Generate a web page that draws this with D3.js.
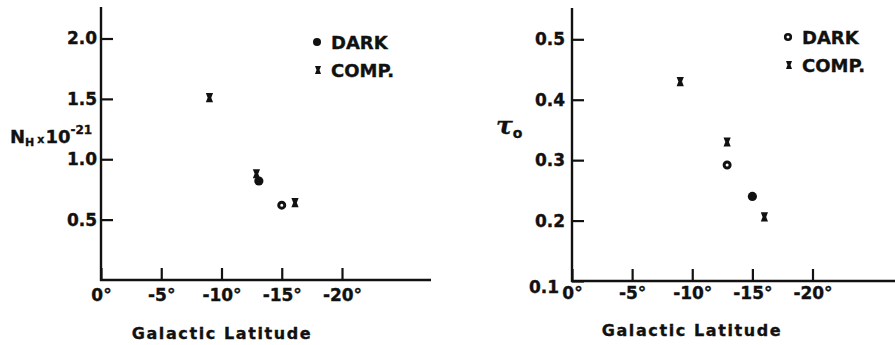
<!DOCTYPE html>
<html>
<head>
<meta charset="utf-8">
<script src="https://cdn.jsdelivr.net/npm/d3@7"></script>
<style>
  body { margin: 0; background: #fff; }
  text { font-family: "DejaVu Sans", sans-serif; font-weight: bold; fill: #111; stroke: #111; stroke-width: 0.35px; }
</style>
</head>
<body>
<div id="chart"></div>
<script>
// galactic latitude (deg) and values
const nhCompLat = [-9.0, -12.9, -16.1];
const nhCompVal = [1.51, 0.88, 0.64];
const nhDarkLat = [-13.1, -15.0];
const nhDarkVal = [0.82, 0.62];
const nhDarkOpen = [false, true];

const tauCompLat = [-9.0, -12.9, -16.0];
const tauCompVal = [0.43, 0.33, 0.206];
const tauDarkLat = [-12.9, -15.0];
const tauDarkVal = [0.292, 0.24];
const tauDarkOpen = [true, false];

const latTicks = [0, -5, -10, -15, -20];
const nhTicks = [0.5, 1.0, 1.5, 2.0];
const tauTicks = [0.1, 0.2, 0.3, 0.4, 0.5];

const svg = d3.select("#chart").append("svg")
    .attr("width", 895)
    .attr("height", 345);

const hourglass = "M-3.6,-4.6H3.6L1.8,0L3.6,4.6H-3.6L-1.8,0Z";

function drawPanel(opt) {
  const g = svg.append("g");
  const x = d3.scaleLinear().domain([0, -20]).range([opt.x0, opt.x20]);
  const y = d3.scaleLinear().domain(opt.yDomain).range(opt.yRange);

  // axes lines
  g.append("line")
    .attr("x1", opt.x0).attr("x2", opt.x0)
    .attr("y1", opt.yTop).attr("y2", y(opt.yDomain[0]) + 1)
    .attr("stroke", "#111").attr("stroke-width", 2.4);
  g.append("line")
    .attr("x1", opt.x0 - 1).attr("x2", opt.xEnd)
    .attr("y1", y(opt.yDomain[0])).attr("y2", y(opt.yDomain[0]))
    .attr("stroke", "#111").attr("stroke-width", 2.4);

  const xAxis = g.append("g")
    .attr("transform", `translate(0,${y(opt.yDomain[0])})`)
    .call(d3.axisBottom(x)
      .tickValues(latTicks)
      .tickSizeInner(-12)
      .tickSizeOuter(0)
      .tickPadding(opt.xPad)
      .tickFormat(d => `${d}°`));
  xAxis.select(".domain").remove();
  xAxis.selectAll("line").attr("stroke", "#111").attr("stroke-width", 2.2);
  xAxis.selectAll("text").style("font-size", "17px").attr("fill", "#111");

  const yAxis = g.append("g")
    .attr("transform", `translate(${opt.x0},0)`)
    .call(d3.axisLeft(y)
      .tickValues(opt.yTicks)
      .tickSizeInner(-12)
      .tickSizeOuter(0)
      .tickPadding(opt.yPad)
      .tickFormat(d3.format(".1f")));
  yAxis.select(".domain").remove();
  yAxis.selectAll("line").attr("stroke", "#111").attr("stroke-width", 2.2);
  yAxis.selectAll("text").style("font-size", "17px").attr("fill", "#111");
  // 0.1 label sits below the corner
  yAxis.selectAll(".tick").filter(d => d === opt.yDomain[0])
    .select("text").attr("dy", "0.65em").attr("x", -13);

  // axis title
  g.append("text")
    .attr("x", opt.titleX)
    .attr("y", opt.titleY)
    .attr("text-anchor", "middle")
    .style("font-size", "16px")
    .style("letter-spacing", "1.6px")
    .text("Galactic Latitude");

  // comparison points
  g.append("g").selectAll("path")
    .data(opt.compLat.map((d, i) => ({ lat: d, v: opt.compVal[i] })))
    .join("path")
    .attr("d", hourglass)
    .attr("transform", d => `translate(${x(d.lat)},${y(d.v)})`)
    .attr("fill", "#111");

  // dark cloud points
  g.append("g").selectAll("circle")
    .data(opt.darkLat.map((d, i) => ({ lat: d, v: opt.darkVal[i], open: opt.darkOpen[i] })))
    .join("circle")
    .attr("cx", d => x(d.lat))
    .attr("cy", d => y(d.v))
    .attr("r", d => d.open ? 3.0 : 4.6)
    .attr("fill", d => d.open ? "#fff" : "#111")
    .attr("stroke", d => d.open ? "#111" : "none")
    .attr("stroke-width", 3);

  // legend
  const lg = g.append("g").attr("transform", `translate(${opt.legX},${opt.legY})`);
  lg.append("circle")
    .attr("cx", 0).attr("cy", 0)
    .attr("r", opt.legOpen ? 2.8 : 4)
    .attr("fill", opt.legOpen ? "#fff" : "#111")
    .attr("stroke", opt.legOpen ? "#111" : "none")
    .attr("stroke-width", 2.6);
  lg.append("text").attr("x", 14).attr("y", 6.5)
    .style("font-size", "18px").text("DARK");
  lg.append("path")
    .attr("d", "M-3,-4H3L1.5,0L3,4H-3L-1.5,0Z")
    .attr("transform", "translate(1,28)")
    .attr("fill", "#111");
  lg.append("text").attr("x", 14).attr("y", 34.5)
    .style("font-size", "18px").text("COMP.");

  return g;
}

const left = drawPanel({
  x0: 101, x20: 342, xEnd: 431,
  yDomain: [0, 2.0], yRange: [280, 38.5], yTop: 7, yTicks: nhTicks,
  xPad: 9, yPad: 4,
  compLat: nhCompLat, compVal: nhCompVal,
  darkLat: nhDarkLat, darkVal: nhDarkVal, darkOpen: nhDarkOpen,
  legX: 317, legY: 42, legOpen: false,
  titleX: 222, titleY: 339
});

const right = drawPanel({
  x0: 572, x20: 812.5, xEnd: 895,
  yDomain: [0.1, 0.5], yRange: [281, 39.3], yTop: 8, yTicks: tauTicks,
  xPad: 6, yPad: 7,
  compLat: tauCompLat, compVal: tauCompVal,
  darkLat: tauDarkLat, darkVal: tauDarkVal, darkOpen: tauDarkOpen,
  legX: 788, legY: 37, legOpen: true,
  titleX: 692, titleY: 336
});

// y axis titles
const nh = left.append("text")
  .attr("x", 10).attr("y", 143)
  .style("font-size", "18px");
nh.append("tspan").text("N");
nh.append("tspan").attr("dy", 3).style("font-size", "11px").text("H");
nh.append("tspan").attr("dy", -3).attr("dx", 3).style("font-size", "11px").text("x");
nh.append("tspan").attr("dx", 1).text("10");
nh.append("tspan").attr("dy", -9).style("font-size", "12px").text("-21");

const tau = right.append("text")
  .attr("x", 496).attr("y", 134)
  .style("font-family", "'DejaVu Serif', serif")
  .style("font-style", "italic")
  .style("font-size", "25px");
tau.append("tspan").text("τ");
tau.append("tspan").attr("dy", 4)
  .style("font-family", "'DejaVu Sans', sans-serif")
  .style("font-style", "normal")
  .style("font-size", "14px").text("o");
</script>
</body>
</html>
